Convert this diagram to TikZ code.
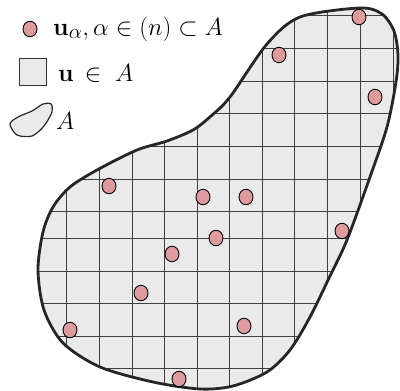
\documentclass[tikz,border=0pt]{standalone}
\usetikzlibrary{shapes.geometric}
\definecolor{dotpink}{RGB}{222,155,157}
\definecolor{regiongray}{RGB}{234,234,234}
\begin{document}
\begin{tikzpicture}[x=1pt,y=-1pt,
  dot/.style={ellipse,draw=black,line width=0.9pt,fill=dotpink,minimum width=14pt,minimum height=15.5pt,inner sep=0pt},
  gridline/.style={draw=black!75,line width=1pt},
  outline/.style={draw=black!85,line width=2.8pt},
  lab/.style={anchor=base west,inner sep=0pt,font=\fontsize{28}{32}\selectfont}]
\useasboundingbox (0,0) rectangle (400,391);
% region fill
\fill[regiongray] plot[smooth cycle] coordinates {(300,17) (360,8) (382,14) (394,31) (398,55) (396,82) (387,127) (370,177) (347,240) (330,276) (310,317) (290,350) (267,372) (233,386) (200,389) (153,382) (100,367) (63,343) (44,310) (38,270) (43,232) (53,207) (70,187) (97,170) (137,150) (167,141) (193,130) (211,116) (230,97) (267,44)};
\begin{scope}
\clip plot[smooth cycle] coordinates {(300,17) (360,8) (382,14) (394,31) (398,55) (396,82) (387,127) (370,177) (347,240) (330,276) (310,317) (290,350) (267,372) (233,386) (200,389) (153,382) (100,367) (63,343) (44,310) (38,270) (43,232) (53,207) (70,187) (97,170) (137,150) (167,141) (193,130) (211,116) (230,97) (267,44)};
\foreach \gx in {66,99,132,164,197,229,262,294,327,360,393}
  \draw[gridline] (\gx,0) -- (\gx,391);
\foreach \gy in {15.5,48,81,113.5,146,179,211,238,271,303.5,336,368}
  \draw[gridline] (0,\gy) -- (400,\gy);
\end{scope}
\draw[outline] plot[smooth cycle] coordinates {(300,17) (360,8) (382,14) (394,31) (398,55) (396,82) (387,127) (370,177) (347,240) (330,276) (310,317) (290,350) (267,372) (233,386) (200,389) (153,382) (100,367) (63,343) (44,310) (38,270) (43,232) (53,207) (70,187) (97,170) (137,150) (167,141) (193,130) (211,116) (230,97) (267,44)};
% sample points
\node[dot] (p1) at (359,17) {};
\node[dot] (p2) at (279,55) {};
\node[dot] (p3) at (375,97) {};
\node[dot] (p4) at (109,186) {};
\node[dot] (p5) at (203,197) {};
\node[dot] (p6) at (246,197) {};
\node[dot] (p7) at (216,238) {};
\node[dot] (p8) at (172,254) {};
\node[dot] (p9) at (342,231) {};
\node[dot] (p10) at (141,293) {};
\node[dot] (p11) at (70,330) {};
\node[dot] (p12) at (244,326) {};
\node[dot] (p13) at (179,379) {};
% legend
\node[dot] (ldot) at (30,29) {};
\node[lab] (l1) at (53,35) {$\mathbf{u}_\alpha, \alpha \in (n) \subset A$};
\node[draw=black!80,fill=regiongray,line width=1pt,minimum size=27pt,inner sep=0pt] (lsq) at (32.5,72) {};
\node[lab] (l2) at (58,81) {$\mathbf{u}\,\in\;A$};
\filldraw[fill=regiongray,draw=black!85,line width=1.2pt] plot[smooth cycle] coordinates {(10,124) (18,117) (32,111) (43,104) (51,104) (52,112) (44,126) (32,136) (17,135)};
\node[lab] (l3) at (56,129) {$A$};
\end{tikzpicture}
\end{document}
